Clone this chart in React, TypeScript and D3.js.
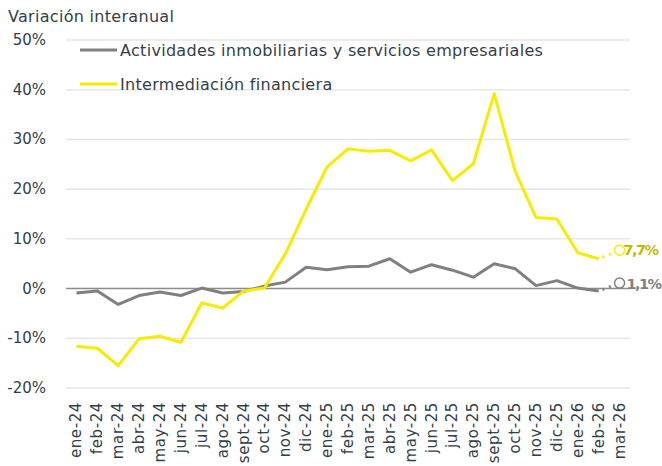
import * as d3 from 'd3';

const WIDTH = 662;
const HEIGHT = 466;
const MARGIN = { top: 40, right: 32, bottom: 78, left: 66 };

const months = [
  'ene-24', 'feb-24', 'mar-24', 'abr-24', 'may-24', 'jun-24', 'jul-24', 'ago-24', 'sept-24',
  'oct-24', 'nov-24', 'dic-24', 'ene-25', 'feb-25', 'mar-25', 'abr-25', 'may-25', 'jun-25',
  'jul-25', 'ago-25', 'sept-25', 'oct-25', 'nov-25', 'dic-25', 'ene-26', 'feb-26', 'mar-26',
];

// values up to feb-26; mar-26 is the forecast point
const inmobiliarias = [
  -0.9, -0.5, -3.2, -1.4, -0.7, -1.4, 0.1, -0.9, -0.6, 0.5, 1.3, 4.3, 3.8, 4.4, 4.5, 6.0,
  3.3, 4.8, 3.7, 2.3, 5.0, 4.0, 0.6, 1.6, 0.1, -0.5,
];
const financiera = [
  -11.6, -12.0, -15.5, -10.1, -9.6, -10.8, -2.9, -3.9, -0.5, 0.1, 7.0, 16.0, 24.5, 28.1,
  27.6, 27.8, 25.7, 27.9, 21.7, 25.1, 39.2, 23.6, 14.3, 14.0, 7.2, 6.0,
];
const forecast = { inmobiliarias: 1.1, financiera: 7.7 };

const yTicks = [-20, -10, 0, 10, 20, 30, 40, 50];

const GRAY = '#808080';
const YELLOW = '#f7ec00';
const TEXT = '#333f48';
const FONT = '"DejaVu Sans", sans-serif';

const App = () => {
  const boundsWidth = WIDTH - MARGIN.left - MARGIN.right;
  const boundsHeight = HEIGHT - MARGIN.top - MARGIN.bottom;

  const xScale = d3.scaleBand().domain(months).range([0, boundsWidth]);
  const cx = (m: string) => (xScale(m) ?? 0) + xScale.bandwidth() / 2;

  const yScale = d3.scaleLinear().domain([-20, 50]).range([boundsHeight, 0]);

  const line = d3
    .line<number>()
    .x((_, i) => cx(months[i]))
    .y((d) => yScale(d));

  const series = [
    { name: 'Actividades inmobiliarias y servicios empresariales', data: inmobiliarias, color: GRAY, last: forecast.inmobiliarias, labelColor: '#7f7f7f' },
    { name: 'Intermediación financiera', data: financiera, color: YELLOW, last: forecast.financiera, labelColor: '#c2bb00' },
  ];

  const lastMonth = months[months.length - 1];
  const prevMonth = months[months.length - 2];

  return (
    <svg width={WIDTH} height={HEIGHT} style={{ position: 'absolute', left: 0, top: 0, background: '#fff' }}>
      <text x={8} y={22} fontSize={16} letterSpacing={0.3} fill={TEXT} fontFamily={FONT}>
        Variación interanual
      </text>
      <g transform={`translate(${MARGIN.left},${MARGIN.top})`}>
        {yTicks.map((t) => (
          <g key={t}>
            {t !== 0 && (
              <line x1={0} x2={boundsWidth} y1={yScale(t)} y2={yScale(t)} stroke="#e6e6e6" strokeWidth={1.5} />
            )}
            <text
              x={-20}
              y={yScale(t)}
              textAnchor="end"
              dominantBaseline="central"
              fontSize={15}
              fill={TEXT}
              fontFamily={FONT}
            >
              {t}%
            </text>
          </g>
        ))}
        <line x1={0} x2={boundsWidth} y1={yScale(0)} y2={yScale(0)} stroke="#8c8c8c" strokeWidth={1.5} />

        {months.map((m) => (
          <text
            key={m}
            transform={`translate(${cx(m)},${boundsHeight + 14}) rotate(-90)`}
            textAnchor="end"
            dominantBaseline="central"
            fontSize={15}
            letterSpacing={0.6}
            fill={TEXT}
            fontFamily={FONT}
          >
            {m}
          </text>
        ))}

        {series.map((s, i) => {
          const y0 = yScale(s.data[s.data.length - 1]);
          const y1 = yScale(s.last);
          const x0 = cx(prevMonth);
          const x1 = cx(lastMonth);
          const ang = Math.atan2(y1 - y0, x1 - x0);
          const r = 5;
          return (
            <g key={s.name}>
              <path d={line(s.data) ?? ''} fill="none" stroke={s.color} strokeWidth={3} strokeLinejoin="round" />
              <line
                x1={x0}
                y1={y0}
                x2={x1 - r * Math.cos(ang)}
                y2={y1 - r * Math.sin(ang)}
                stroke={s.color}
                strokeWidth={3}
                strokeDasharray="2 5"
                strokeDashoffset={-4}
              />
              <circle cx={x1} cy={y1} r={r} fill="#fff" stroke={s.color} strokeWidth={1.5} />
              <text
                x={x1 + (i === 0 ? 7 : 4)}
                y={y1 + (i === 0 ? 1 : 0)}
                dominantBaseline="central"
                fontSize={14.5}
                fontWeight={600}
                letterSpacing={-1.6}
                fill={s.labelColor}
                fontFamily={FONT}
              >
                {s.last.toFixed(1).replace('.', ',')}%
              </text>
            </g>
          );
        })}

        {series.map((s, i) => (
          <g key={s.name} transform={`translate(14,${10 + i * 34})`}>
            <line x1={0} x2={37} y1={0} y2={0} stroke={s.color} strokeWidth={3} />
            <text x={40} y={0} dominantBaseline="central" fontSize={16} letterSpacing={0.3} fill={TEXT} fontFamily={FONT}>
              {s.name}
            </text>
          </g>
        ))}
      </g>
    </svg>
  );
};

export default App;
